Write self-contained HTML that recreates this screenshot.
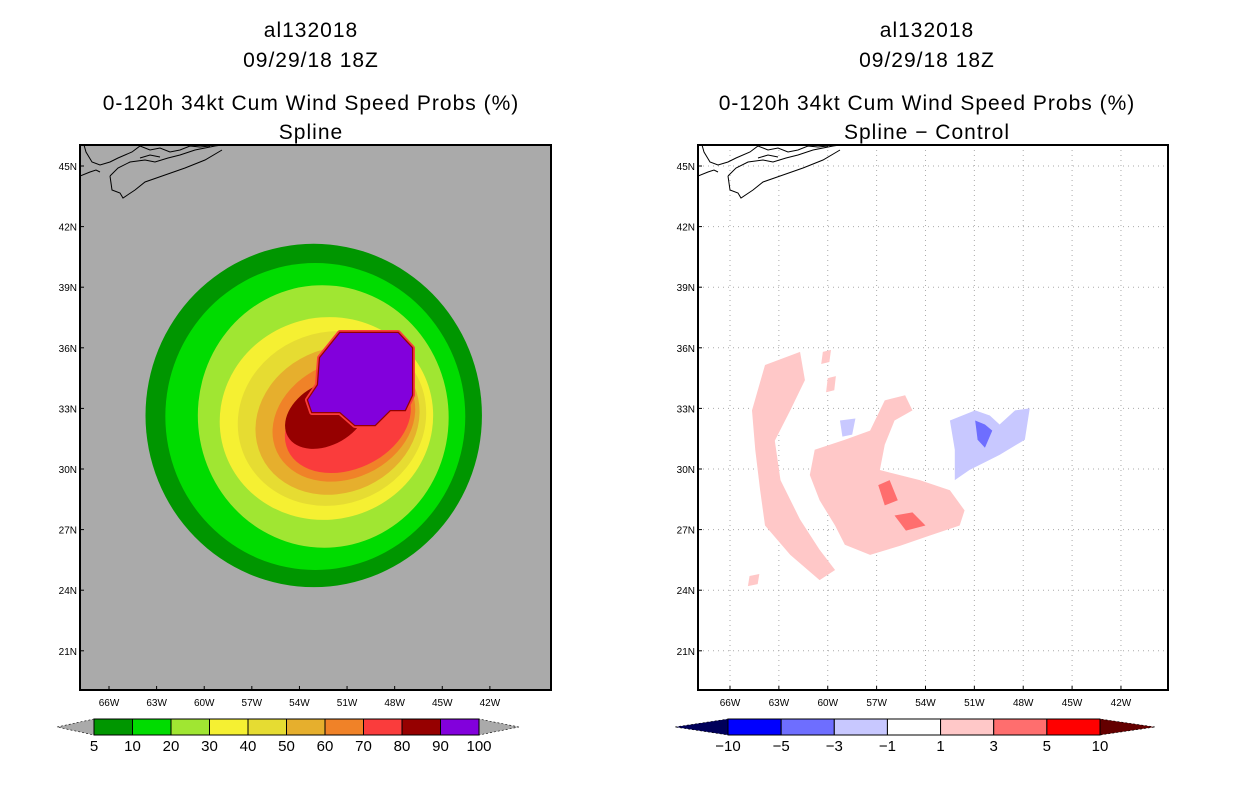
<!DOCTYPE html>
<html><head><meta charset="utf-8"><style>
body{margin:0;background:#fff;width:1236px;height:800px;overflow:hidden;font-family:"Liberation Sans",sans-serif}
svg text{font-family:"Liberation Sans",sans-serif}
</style></head><body>
<svg id="s" width="1236" height="800" xmlns="http://www.w3.org/2000/svg"></svg>
<script>
// ---- data ----
const lonTicks=[66,63,60,57,54,51,48,45,42];
const latTicks=[45,42,39,36,33,30,27,24,21];
const probLevels=[5,10,20,30,40,50,60,70,80,90,100];
const probColors=['#009600','#00dc00','#a0e632','#f5f032','#e6dc32','#e6af2d','#f08228','#fa3c3c','#960000','#8200dc'];
// ellipse contours: [level, lonW center, lat center, rx deg, ry deg, rotation]
const probLevelIdx=[0,1,2,3,4,5,6,7,8];
const probCx=[53.1,53.0,52.5,52.3,51.95,51.6,51.2,50.95,52.3];
const probCy=[32.65,32.6,32.6,32.5,32.5,32.4,32.4,32.3,32.7];
const probRx=[10.6,9.45,7.9,6.75,6.0,5.3,4.66,4.16,2.8];
const probRy=[8.5,7.6,6.5,5.0,4.27,3.56,2.87,2.3,1.5];
const probRot=[0,0,-5,-15,-20,-25,-25,-25,-30];
const purpleLon=[51.44,47.79,46.91,46.91,47.35,48.29,49.24,50.5,51.44,53.2,53.46,52.83,52.7];
const purpleLat=[36.73,36.73,35.99,33.66,32.92,32.92,32.18,32.18,32.82,32.82,33.42,34.16,35.5];
const diffLevels=[-10,-5,-3,-1,1,3,5,10];
const diffColors=['#0000ff','#6e6eff','#c8c8ff','#ffffff','#ffc8c8','#ff6e6e','#ff0000'];
const diffRegions=[
 {c:4,lon:[63.85,61.7,61.4,62.3,63.25,62.9,61.7,60.5,59.55,60.5,62.3,63.85,64.15,64.45,64.65],lat:[35.15,35.8,34.4,32.9,31.4,29.45,27.5,26.0,25.0,24.5,25.75,27.2,28.95,30.95,32.9]},
 {c:4,lon:[60.8,58.95,57.4,56.5,55.25,54.8,55.9,56.5,56.8,54.35,52.5,51.6,51.9,53.75,55.55,57.4,58.95,59.55,60.5,61.1],lat:[30.95,31.45,31.9,33.4,33.65,32.9,32.4,31.2,29.95,29.45,28.95,27.95,27.2,26.7,26.2,25.75,26.25,27.2,28.45,29.7]},
 {c:2,lon:[52.5,50.95,50.05,49.45,48.5,47.6,47.9,49.45,51.3,52.2,52.2],lat:[32.4,32.9,32.65,32.2,32.9,33.0,31.45,30.7,29.95,29.45,30.95]},
 {c:2,lon:[59.25,58.3,58.5,59.1],lat:[32.4,32.5,31.7,31.6]},
 {c:1,lon:[50.95,50.35,49.9,50.35,50.8],lat:[32.4,32.2,31.9,31.05,31.45]},
 {c:5,lon:[56.9,56.2,55.7,56.5],lat:[29.2,29.45,28.45,28.2]},
 {c:5,lon:[55.9,54.8,54.0,55.2],lat:[27.7,27.85,27.2,26.95]},
 {c:4,lon:[60.3,59.8,59.9,60.4],lat:[35.8,35.9,35.3,35.2]},
 {c:4,lon:[60.0,59.5,59.6,60.1],lat:[34.5,34.6,33.9,33.8]},
 {c:4,lon:[64.8,64.2,64.3,64.9],lat:[24.7,24.8,24.3,24.2]}
];
// ---- helpers ----
const S=document.getElementById('s');const NS='http://www.w3.org/2000/svg';
function mk(t,a,p){const e=document.createElementNS(NS,t);for(const k in a)e.setAttribute(k,a[k]);(p||S).appendChild(e);return e;}
const panels=[{x0:80,x1:551,ax:109,sx:15.87,cx:311,bg:'#aaaaaa',sub:'Spline',name:'left'},
              {x0:698,x1:1168,ax:730,sx:16.29,cx:927,bg:'#ffffff',sub:'Spline \u2212 Control',name:'right'}];
const y0=145,y1=690;
function Y(lat){return 166+(45-lat)*20.2;}
panels.forEach((P,pi)=>{
 const X=l=>P.ax+(66-l)*P.sx;
 const g=mk('g',{});
 
 
 const titles=['al132018','09/29/18 18Z','0-120h 34kt Cum Wind Speed Probs (%)',P.sub];
 const ty=[37,67,110,139];
 titles.forEach((t,i)=>{const e=mk('text',{x:P.cx,y:ty[i],'text-anchor':'middle','font-size':21,'letter-spacing':'1',fill:'#000'},g);e.textContent=t;
  });
 const cp='clip'+pi;const d=mk('defs',{},g);const c=mk('clipPath',{id:cp},d);mk('rect',{x:P.x0,y:y0,width:P.x1-P.x0,height:y1-y0},c);
 mk('rect',{x:P.x0,y:y0,width:P.x1-P.x0,height:y1-y0,fill:P.bg},g);
 const m=mk('g',{'clip-path':'url(#'+cp+')'},g);
 if(pi==0){
  probLevelIdx.forEach((li,i)=>{
   const e=mk('ellipse',{cx:X(probCx[i]),cy:Y(probCy[i]),rx:probRx[i]*P.sx,ry:probRy[i]*20.2,fill:probColors[li],transform:`rotate(${probRot[i]} ${X(probCx[i])} ${Y(probCy[i])})`},m);
   
   
  });
  const pts=purpleLon.map((l,i)=>X(l)+','+Y(purpleLat[i])).join(' ');
  mk('polygon',{points:pts,fill:'none',stroke:'#fa3c3c','stroke-width':6,'stroke-linejoin':'round'},m);
  mk('polygon',{points:pts,fill:'none',stroke:'#960000','stroke-width':2.5},m);
  const pp=mk('polygon',{points:pts,fill:probColors[9]},m);
  
  
 } else {
  latTicks.forEach(l=>mk('line',{x1:P.x0,x2:P.x1,y1:Y(l),y2:Y(l),stroke:'#aaa','stroke-dasharray':'1,4'},m));
  lonTicks.forEach(l=>mk('line',{x1:X(l),x2:X(l),y1:y0,y2:y1,stroke:'#aaa','stroke-dasharray':'1,4'},m));
  diffRegions.forEach((r,i)=>{
   const e=mk('polygon',{points:r.lon.map((l,j)=>X(l)+','+Y(r.lat[j])).join(' '),fill:diffColors[r.c],'stroke-linejoin':'round'},m);
   
   
  });
 }
 // coastline (Nova Scotia)
 const o=P.x0-80;
 const cl=[[[84,145],[86,152],[92,162],[100,165],[110,162],[118,158],[132,152],[140,146],[150,150],[160,148],[170,152],[180,150],[190,146],[200,147],[210,146]],
  [[80,176],[90,172],[96,170],[100,172]],
  [[110,176],[118,168],[130,162],[145,160],[155,162],[168,158],[180,155],[195,150],[215,146],[222,145]],
  [[110,176],[112,190],[120,193],[123,198],[135,190],[145,182],[165,175],[185,168],[205,160],[222,150]],
  [[140,158],[150,155],[160,157]]];
 const cg=mk('g',{fill:'none',stroke:'#000','stroke-width':1},m);
 
 
 cl.forEach(line=>mk('polyline',{points:line.map(p=>(p[0]+o)+','+p[1]).join(' ')},cg));
 mk('rect',{x:P.x0,y:y0,width:P.x1-P.x0,height:y1-y0,fill:'none',stroke:'#000','stroke-width':2},g);
 lonTicks.forEach(l=>{const t=mk('text',{x:X(l),y:706,'text-anchor':'middle','font-size':10},g);t.textContent=l+'W';
  
  mk('line',{x1:X(l),x2:X(l),y1:y1,y2:y1-4,stroke:'#000'},g);});
 latTicks.forEach(l=>{const t=mk('text',{x:P.x0-3,y:Y(l)+4,'text-anchor':'end','font-size':10},g);t.textContent=l+'N';
  
  mk('line',{x1:P.x0,x2:P.x0+4,y1:Y(l),y2:Y(l),stroke:'#000'},g);});
});
// colorbars
function bar(x0,x1,lx,rx,levels,colors,lc,rcol,name){
 const g=mk('g',{});
 
 
 const n=colors.length,w=(x1-x0)/n;
 mk('polygon',{points:`${lx},727 ${x0},719 ${x0},735`,fill:lc,stroke:'#000','stroke-dasharray':'2,2','stroke-width':0.6},g);
 mk('polygon',{points:`${rx},727 ${x1},719 ${x1},735`,fill:rcol,stroke:'#000','stroke-dasharray':'2,2','stroke-width':0.6},g);
 colors.forEach((c,i)=>mk('rect',{x:x0+i*w,y:719,width:w,height:16,fill:c,stroke:'#000','stroke-width':1},g));
 levels.forEach((l,i)=>{const t=mk('text',{x:x0+i*w,y:751,'text-anchor':'middle','font-size':15},g);t.textContent=String(l).replace('-','\u2212');});
}
bar(94,479,57,519,probLevels,probColors,'#aaaaaa','#aaaaaa','prob-colorbar');
bar(728,1100,675,1155,diffLevels,diffColors,'#00005a','#640000','diff-colorbar');
</script>
</body></html>
